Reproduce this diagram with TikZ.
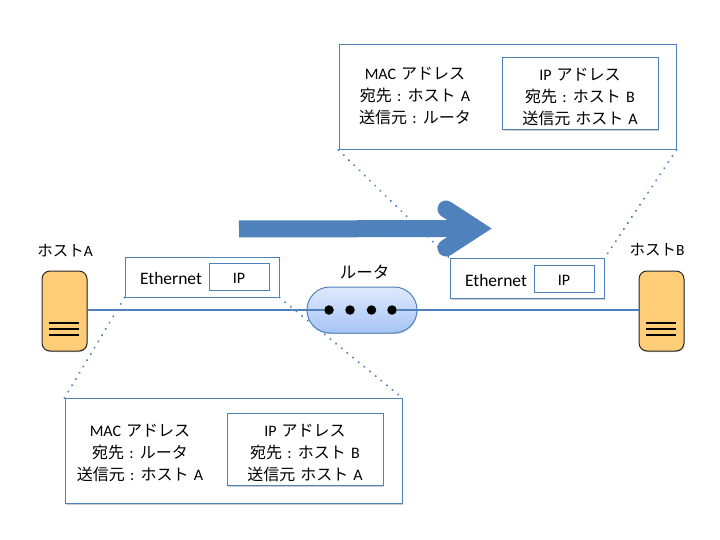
\documentclass[tikz,border=0pt]{standalone}
\usepackage{fontspec}
\setmainfont{Carlito}
\newfontfamily\jpfont{Noto Sans CJK JP}
\newcommand{\jp}[1]{{\jpfont #1}}
\newcommand{\addrfont}{\fontsize{16}{22}\selectfont\spaceskip 0.32em\relax}
\usetikzlibrary{shadows}
\definecolor{linkblue}{HTML}{4F81BD}
\definecolor{hostorange}{HTML}{FFCC77}
\definecolor{routertop}{HTML}{DFE9FC}
\definecolor{routerbottom}{HTML}{A6C4F6}

\begin{document}
\begin{tikzpicture}[
  x=1pt, y=-1pt,
  softshadow/.style={drop shadow={shadow xshift=0.5pt, shadow yshift=-1pt, opacity=0.2, fill=black}},
  box/.style={draw=linkblue, line width=1pt, fill=white, inner sep=0pt, softshadow},
  ethbox/.style={box, minimum width=154pt, minimum height=40pt},
  ipbox/.style={box, minimum width=60pt, minimum height=27pt, font=\fontsize{16}{18}\selectfont},
  framebox/.style={box, minimum width=337pt, minimum height=105pt},
  addrbox/.style={box, minimum width=156pt, minimum height=72pt, align=center, font=\addrfont},
  addrtext/.style={align=center, inner sep=0pt, font=\addrfont},
  ethtext/.style={inner sep=0pt, font=\fontsize{17.5}{18}\selectfont},
  hostbox/.style={draw=black!85, line width=1pt, fill=hostorange, rounded corners=8pt, minimum width=45pt, minimum height=80pt, inner sep=0pt, softshadow},
  hostbar/.style={draw=black, line width=1.8pt},
  hostname/.style={inner sep=0pt, font=\fontsize{15.5}{18}\selectfont},
  routerbox/.style={draw=linkblue, line width=1pt, top color=routertop, bottom color=routerbottom, rounded corners=22.9pt, minimum width=110pt, minimum height=46pt, inner sep=0pt, softshadow},
  portdot/.style={circle, fill=black, minimum size=9.5pt, inner sep=0pt},
  zoomline/.style={draw=linkblue, line width=2.2pt, line cap=round, dash pattern=on 0.1pt off 7.2pt},
  link/.style={draw=linkblue, line width=1.8pt},
  flow/.style={draw=linkblue, line width=17pt, line cap=round, line join=miter}
]
\useasboundingbox (0,0) rectangle (720,540);

% frames of the packet on each side of the router
\node[ethbox] (ethA) at (202,277) {};
\node[ethtext] (ethAtext) at (171,278) {Ethernet};
\node[ipbox] (ipA) at (239,276.5) {\rule{0pt}{13pt}IP};
\node[ethbox] (ethB) at (527,278.5) {};
\node[ethtext] (ethBtext) at (496,280) {Ethernet};
\node[ipbox] (ipB) at (564,278.5) {\rule{0pt}{13pt}IP};

% address tables
\node[framebox] (tableB) at (507.5,97) {};
\node[addrtext] (macB) at (415,96) {MAC \jp{アドレス}\\\jp{宛先} : \jp{ホスト} A\\\jp{送信元} : \jp{ルータ}};
\node[addrbox] (addrB) at (580,94) {\rule{0pt}{18pt}IP \jp{アドレス}\\\jp{宛先} : \jp{ホスト} B\\\jp{送信元} \jp{ホスト} A};
\node[framebox] (tableA) at (233.5,451) {};
\node[addrtext] (macA) at (140,452.5) {MAC \jp{アドレス}\\\jp{宛先} : \jp{ルータ}\\\jp{送信元} : \jp{ホスト} A};
\node[addrbox] (addrA) at (305,449.5) {\rule{0pt}{19pt}IP \jp{アドレス}\\\jp{宛先} : \jp{ホスト} B\\\jp{送信元} \jp{ホスト} A};

\draw[zoomline] (ethA.south west) -- (tableA.north west);
\draw[zoomline] (ethA.south east) -- (tableA.north east);
\draw[zoomline] (tableB.south west) -- (ethB.north west);
\draw[zoomline] (tableB.south east) -- (ethB.north east);

% hosts and router
\node[hostbox] (hostA) at (64.5,311) {};
\node[hostbox] (hostB) at (661.5,311) {};
\node[hostname] (nameA) at (65,251) {\jp{ホスト}A};
\node[hostname] (nameB) at (657,250) {\jp{ホスト}B};
\foreach \y in {323,329,335} {
  \draw[hostbar] (49,\y) -- (79,\y);
  \draw[hostbar] (646,\y) -- (676,\y);
}
\node[routerbox] (router) at (362,310) {};
\node[hostname, font=\fontsize{16.5}{18}\selectfont] (namerouter) at (364.5,272) {\jp{ルータ}};
\node[portdot] (porta) at (329,310) {};
\node[portdot] (portb) at (350,310) {};
\node[portdot] (portc) at (371.5,310) {};
\node[portdot] (portd) at (392,310) {};

\draw[link] (hostA.east |- porta) -- (porta);
\draw[link] (portd) -- (hostB.west |- portd);

% direction of travel
\coordinate (flowstart) at (239,229);
\coordinate (flowtip) at (476,228.5);
\coordinate (flowup) at (446,209);
\coordinate (flowdown) at (446,248);
\draw[flow, line cap=butt] (flowstart) -- (flowtip);
\draw[flow] (flowup) -- (flowtip) -- (flowdown);
\end{tikzpicture}
\end{document}
